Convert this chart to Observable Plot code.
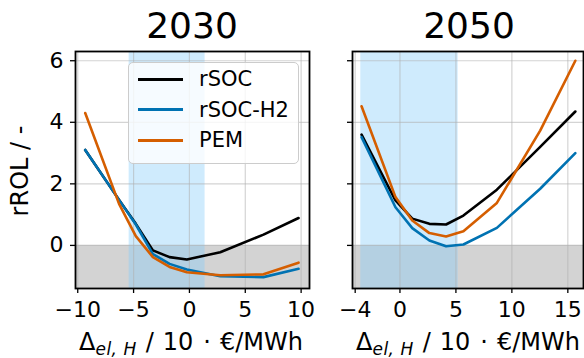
<!DOCTYPE html>
<html><head><meta charset="utf-8">
<script src="https://cdn.jsdelivr.net/npm/d3@7"></script>
<script src="https://cdn.jsdelivr.net/npm/@observablehq/plot@0.6"></script>
<style>
body{margin:0;background:#fff;}
#chart{position:relative;width:584px;height:358px;font-family:"DejaVu Sans",sans-serif;overflow:hidden;background:#fff;}
#chart svg{position:absolute;top:0;}
.lbl{position:absolute;white-space:nowrap;color:#000;}
.title{font-size:36px;line-height:36px;top:8px;transform:translateX(-50%);}
.xl{font-size:24px;line-height:28px;top:328px;padding-bottom:4px;transform:translateX(-50%);}
.xl sub{font-size:17px;line-height:17px;font-style:italic;vertical-align:-5px;letter-spacing:0.5px;}
.yl{font-size:24px;line-height:28px;transform:translate(-50%,-50%) rotate(-90deg);}
#legend{position:absolute;left:128px;top:62px;width:169px;height:100px;border:1px solid #cccccc;border-radius:5px;background:rgba(255,255,255,0.8);}
.lg-line{position:absolute;left:9px;width:45px;height:3px;}
.lg-text{position:absolute;left:70px;font-size:21px;line-height:24px;white-space:nowrap;}
</style></head><body><div id="chart"></div>
<script>
const years = ["2030", "2050"];
const series = ["rSOC", "rSOC-H2", "PEM"];
const colors = ["#000000", "#0072b2", "#d55e00"];

const x2030 = [-9.33, -6.3, -4.8, -3.27, -1.78, -0.23, 2.76, 6.63, 9.77];
const rsoc2030 = [3.1, 1.48, 0.7, -0.16, -0.38, -0.46, -0.22, 0.35, 0.89];
const rsocH2_2030 = [3.1, 1.48, 0.68, -0.28, -0.6, -0.78, -1.0, -1.03, -0.76];
const pem2030 = [4.3, 1.35, 0.3, -0.38, -0.7, -0.87, -0.97, -0.94, -0.56];

const x2050 = [-3.43, -0.4, 1.1, 2.63, 4.12, 5.67, 8.66, 12.53, 15.67];
const rsoc2050 = [3.6, 1.46, 0.87, 0.7, 0.68, 0.97, 1.81, 3.2, 4.35];
const rsocH2_2050 = [3.52, 1.24, 0.56, 0.16, -0.03, 0.03, 0.57, 1.84, 3.0];
const pem2050 = [4.52, 1.57, 0.81, 0.4, 0.29, 0.46, 1.38, 3.73, 6.0];

const band2030 = [-5.4, 1.4];
const band2050 = [-3.5, 5.2];
const xTicks2030 = [-10, -5, 0, 5, 10];
const xTicks2050 = [-4, 0, 5, 10, 15];
const yTicks = [0, 2, 4, 6];
const xDomain2030 = [-10.2, 10.75];
const xDomain2050 = [-4.24, 16.4];
const yDomain = [-1.4, 6.3];
const yLabel = "rROL / -";

const fmt = d => d < 0 ? "\u2212" + Math.abs(d) : String(d);

function panel(xs, ys, band, xDomain, xTicks, o) {
  const data = [];
  ys.forEach((arr, i) => arr.forEach((v, j) => data.push({x: xs[j], y: v, s: series[i]})));
  const grid = {stroke: "#b0b0b0", strokeOpacity: 0.55, strokeWidth: 1.2};
  return Plot.plot({
    width: o.width, height: 358,
    marginLeft: o.ml, marginRight: o.mr, marginTop: 51, marginBottom: 70,
    x: {domain: xDomain},
    y: {domain: yDomain},
    color: {domain: series, range: colors},
    style: {fontFamily: "DejaVu Sans", fontSize: "22px", background: "transparent", color: "black", overflow: "visible"},
    marks: [
      Plot.rect([{x1: xDomain[0], x2: xDomain[1], y1: yDomain[0], y2: 0}], {x1: "x1", x2: "x2", y1: "y1", y2: "y2", fill: "#d3d3d3"}),
      Plot.rect([{x1: band[0], x2: band[1], y1: yDomain[0], y2: yDomain[1]}], {x1: "x1", x2: "x2", y1: "y1", y2: "y2", fill: "#87cefa", fillOpacity: 0.4}),
      Plot.gridX(xTicks, grid),
      Plot.gridY(yTicks, grid),
      Plot.line(data, {x: "x", y: "y", z: "s", stroke: "s", strokeWidth: 2.6, strokeLinejoin: "round"}),
      Plot.frame({stroke: "black", strokeWidth: 1.8}),
      Plot.axisX(xTicks, {tickSize: 5, tickPadding: 8, fontSize: 22, tickFormat: fmt, label: null, strokeWidth: 1.3}),
      Plot.axisY(yTicks, {tickSize: 5, tickPadding: 7, fontSize: 22, tickFormat: o.ylab ? fmt : () => "", label: null, strokeWidth: 1.3})
    ]
  });
}

const chart = document.getElementById("chart");
const left = panel(x2030, [rsoc2030, rsocH2_2030, pem2030], band2030, xDomain2030, xTicks2030, {width: 320, ml: 75, mr: 11, ylab: true});
left.style.left = "0px";
const right = panel(x2050, [rsoc2050, rsocH2_2050, pem2050], band2050, xDomain2050, xTicks2050, {width: 264, ml: 32, mr: 1, ylab: false});
right.style.left = "320px";
chart.appendChild(left);
chart.appendChild(right);

function addLbl(cls, html, x, y) {
  const d = document.createElement("div");
  d.className = "lbl " + cls;
  d.innerHTML = html;
  d.style.left = x + "px";
  if (y != null) d.style.top = y + "px";
  chart.appendChild(d);
  return d;
}
addLbl("title", years[0], 192);
addLbl("title", years[1], 469);
const xlab = 'Δ<sub>el, H</sub><span style="margin:0 9px 0 9px">/</span>10<span style="margin:0 9px 0 10px">·</span>€/MWh';
addLbl("xl", xlab, 191);
addLbl("xl", xlab, 468);
addLbl("yl", yLabel, 20, 171);

const lg = document.createElement("div");
lg.id = "legend";
series.forEach((s, i) => {
  const ln = document.createElement("div");
  ln.className = "lg-line";
  ln.style.top = (16 + i * 30.5 - 1.5) + "px";
  ln.style.background = colors[i];
  lg.appendChild(ln);
  const t = document.createElement("div");
  t.className = "lg-text";
  t.textContent = s;
  t.style.top = (16 + i * 30.5 - 12) + "px";
  lg.appendChild(t);
});
chart.appendChild(lg);
</script></body></html>
